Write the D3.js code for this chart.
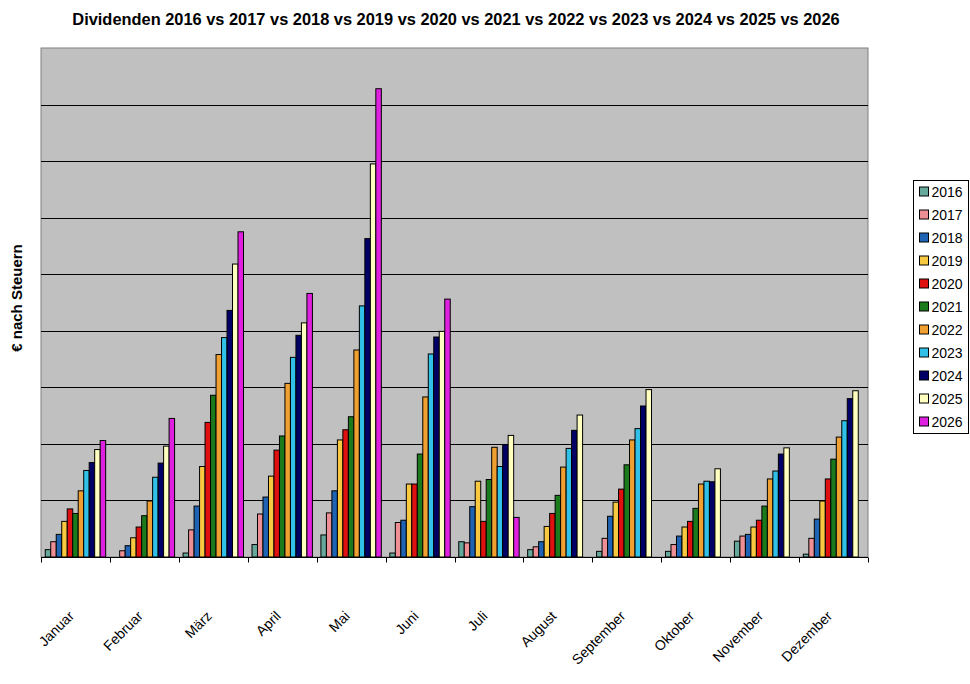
<!DOCTYPE html>
<html lang="de">
<head>
<meta charset="UTF-8">
<title>Dividenden</title>
<script src="https://d3js.org/d3.v7.min.js"></script>
<style>
    body { margin: 0; background: #fff; font-family: Arial, "Liberation Sans", sans-serif; }
    svg text { font-family: Arial, "Liberation Sans", sans-serif; }
</style>
</head>
<body>
<svg id="chart" width="970" height="684"></svg>
<script>
const months = ["Januar", "Februar", "März", "April", "Mai", "Juni", "Juli", "August", "September", "Oktober", "November", "Dezember"];
const years = ["2016", "2017", "2018", "2019", "2020", "2021", "2022", "2023", "2024", "2025", "2026"];
const colors = ["#66a89c", "#ee8f95", "#1e63b4", "#f7c840", "#e01010", "#1b7a1b", "#f0a030", "#30c0e8", "#000066", "#ffffc0", "#e020e0"];

// values per year, Januar..Dezember (units of one grid step, no axis labels in original)
const v2016 = [0.13, 0.00, 0.07, 0.22, 0.39, 0.07, 0.27, 0.13, 0.10, 0.10, 0.28, 0.05];
const v2017 = [0.27, 0.11, 0.48, 0.76, 0.78, 0.61, 0.25, 0.18, 0.33, 0.22, 0.37, 0.33];
const v2018 = [0.40, 0.20, 0.90, 1.06, 1.17, 0.65, 0.89, 0.27, 0.72, 0.37, 0.40, 0.67];
const v2019 = [0.63, 0.34, 1.60, 1.43, 2.07, 1.29, 1.34, 0.54, 0.97, 0.53, 0.53, 0.99];
const v2020 = [0.85, 0.53, 2.38, 1.89, 2.25, 1.29, 0.63, 0.77, 1.20, 0.63, 0.65, 1.38];
const v2021 = [0.77, 0.73, 2.86, 2.14, 2.48, 1.82, 1.37, 1.09, 1.63, 0.86, 0.90, 1.73];
const v2022 = [1.17, 0.99, 3.58, 3.07, 3.66, 2.83, 1.94, 1.59, 2.07, 1.29, 1.38, 2.12];
const v2023 = [1.53, 1.41, 3.88, 3.53, 4.44, 3.59, 1.60, 1.92, 2.27, 1.34, 1.52, 2.41];
const v2024 = [1.67, 1.66, 4.36, 3.92, 5.63, 3.89, 1.99, 2.24, 2.67, 1.33, 1.82, 2.80];
const v2025 = [1.90, 1.96, 5.18, 4.14, 6.95, 3.99, 2.15, 2.51, 2.96, 1.56, 1.93, 2.94];
const v2026 = [2.06, 2.45, 5.75, 4.66, 8.28, 4.56, 0.70, 0, 0, 0, 0, 0];
const series = [v2016, v2017, v2018, v2019, v2020, v2021, v2022, v2023, v2024, v2025, v2026];

const svg = d3.select("#chart");
const plot = { left: 41, right: 868, top: 48, bottom: 557 };

const x = d3.scaleBand().domain(months).range([plot.left, plot.right]).padding(0);
const gap = 8.5;
const xInner = d3.scaleBand().domain(years).range([gap / 2, x.bandwidth() - gap / 2]).padding(0);
const y = d3.scaleLinear().domain([0, 9]).range([plot.bottom, plot.top]);

// plot background
svg.append("rect")
    .attr("x", plot.left).attr("y", plot.top)
    .attr("width", plot.right - plot.left).attr("height", plot.bottom - plot.top)
    .attr("fill", "#c0c0c0").attr("stroke", "#808080").attr("stroke-width", 1);

// gridlines
svg.append("g")
    .selectAll("line")
    .data(d3.range(1, 9))
    .join("line")
    .attr("x1", plot.left).attr("x2", plot.right)
    .attr("y1", d => Math.round(y(d)) + 0.5).attr("y2", d => Math.round(y(d)) + 0.5)
    .attr("stroke", "#000").attr("stroke-width", 1);

// bars
const groups = svg.append("g")
    .selectAll("g")
    .data(months)
    .join("g")
    .attr("transform", d => `translate(${x(d)},0)`);

groups.selectAll("rect")
    .data((m, i) => years.map((yr, k) => ({ year: yr, value: series[k][i], color: colors[k] })).filter(d => d.value > 0))
    .join("rect")
    .attr("x", d => xInner(d.year))
    .attr("y", d => y(d.value))
    .attr("width", xInner.bandwidth())
    .attr("height", d => y(0) - y(d.value))
    .attr("fill", d => d.color)
    .attr("stroke", "#000")
    .attr("stroke-width", 1);

// x axis
const xAxis = svg.append("g")
    .attr("transform", `translate(0,${plot.bottom + 0.5})`);
xAxis.append("line")
    .attr("x1", plot.left).attr("x2", plot.right)
    .attr("stroke", "#000");
xAxis.selectAll("line.tick")
    .data(d3.range(0, months.length + 1))
    .join("line")
    .attr("class", "tick")
    .attr("x1", i => Math.round(plot.left + i * x.step()) + 0.5)
    .attr("x2", i => Math.round(plot.left + i * x.step()) + 0.5)
    .attr("y1", 0).attr("y2", 5)
    .attr("stroke", "#000");
xAxis.selectAll("text")
    .data(months)
    .join("text")
    .attr("transform", d => `translate(${x(d) + x.bandwidth() / 2 - 4},${56}) rotate(-45)`)
    .attr("text-anchor", "end")
    .attr("dy", "0.35em")
    .attr("font-size", 14)
    .attr("fill", "#000")
    .text(d => d);

// title
svg.append("text")
    .attr("x", 456).attr("y", 25)
    .attr("text-anchor", "middle")
    .attr("font-size", 16.4).attr("font-weight", "bold")
    .text("Dividenden " + years.join(" vs "));

// y label
svg.append("text")
    .attr("transform", "translate(22,298) rotate(-90)")
    .attr("text-anchor", "middle")
    .attr("font-size", 15).attr("font-weight", "bold")
    .text("€ nach Steuern");

// legend
const legend = svg.append("g").attr("transform", "translate(913.5,180.5)");
legend.append("rect")
    .attr("width", 55).attr("height", 253)
    .attr("fill", "#fff").attr("stroke", "#000");
const item = legend.selectAll("g")
    .data(years)
    .join("g")
    .attr("transform", (d, i) => `translate(6,${11 + i * 23})`);
item.append("rect")
    .attr("x", 0).attr("y", -4.5)
    .attr("width", 9).attr("height", 9)
    .attr("fill", (d, i) => colors[i]).attr("stroke", "#000");
item.append("text")
    .attr("x", 12).attr("dy", "0.36em")
    .attr("font-size", 14)
    .text(d => d);
</script>
</body>
</html>
